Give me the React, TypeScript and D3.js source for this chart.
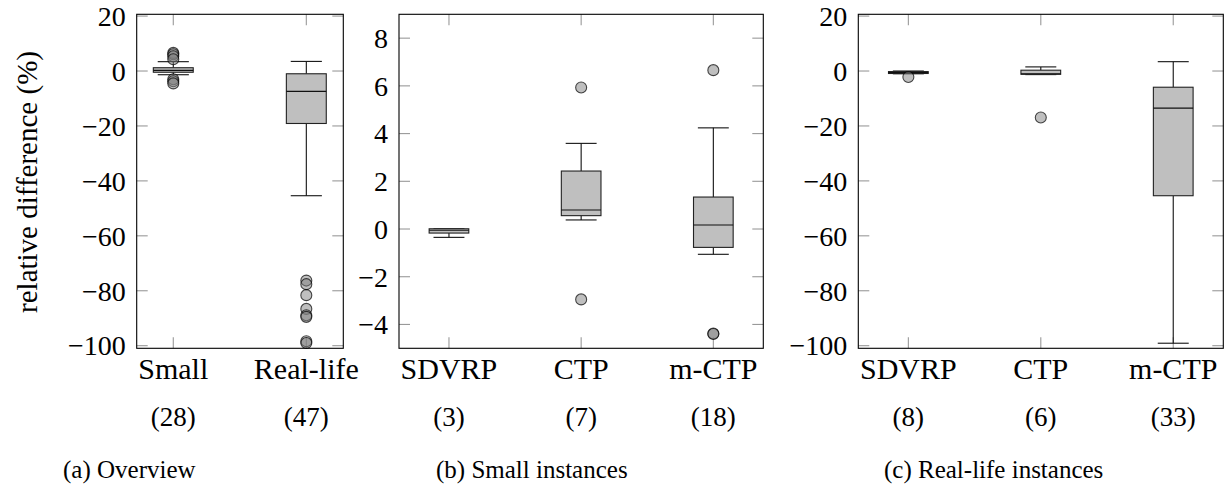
import React from "react";
import * as d3 from "d3";

// box stats: lo/hi = whisker ends
const overviewCats = ["Small", "Real-life"];
const overviewCounts = ["(28)", "(47)"];
const overviewBoxes = [
  { lo: -1.35, q1: -0.45, med: 0.25, q3: 1.2, hi: 3.4 },
  { lo: -45.4, q1: -19.1, med: -7.4, q3: -1.0, hi: 3.5 },
];
const overviewOutliers = [
  [6.6, 6.1, 5.4, 4.3, -3.0, -3.7, -4.5],
  [-76.3, -77.6, -81.6, -86.6, -88.9, -89.5, -98.4, -99.0],
];

const smallCats = ["SDVRP", "CTP", "m-CTP"];
const smallCounts = ["(3)", "(7)", "(18)"];
const smallBoxes = [
  { lo: -0.35, q1: -0.17, med: -0.05, q3: 0.01, hi: 0.01 },
  { lo: 0.38, q1: 0.56, med: 0.8, q3: 2.43, hi: 3.59 },
  { lo: -1.06, q1: -0.77, med: 0.17, q3: 1.34, hi: 4.24 },
];
const smallOutliers = [[], [5.93, -2.95], [6.66, -4.38, -4.4]];

const realCats = ["SDVRP", "CTP", "m-CTP"];
const realCounts = ["(8)", "(6)", "(33)"];
const realBoxes = [
  { lo: -1.0, q1: -0.9, med: -0.6, q3: -0.2, hi: 0 },
  { lo: -1.3, q1: -1.2, med: -1.0, q3: 0.3, hi: 1.5 },
  { lo: -99.1, q1: -45.4, med: -13.5, q3: -5.9, hi: 3.4 },
];
const realOutliers = [[-2.2], [-16.9], []];

const pctTicks = [20, 0, -20, -40, -60, -80, -100];
const smallTicks = [8, 6, 4, 2, 0, -2, -4];

const captions = ["(a) Overview", "(b) Small instances", "(c) Real-life instances"];

const FONT = "Liberation Serif, serif";
const TOP = 14.3;
const BOTTOM = 348.3;
const fmt = (v: number) => (v < 0 ? "\u2212" + Math.abs(v) : String(v));

type Box = { lo: number; q1: number; med: number; q3: number; hi: number };

function Panel({ left, right, xDomain, yDomain, ticks, cats, counts, boxes, outliers }: {
  left: number; right: number; xDomain: [number, number]; yDomain: [number, number];
  ticks: number[]; cats: string[]; counts: string[]; boxes: Box[]; outliers: number[][];
}) {
  const x = d3.scaleLinear().domain(xDomain).range([left, right]);
  const y = d3.scaleLinear().domain(yDomain).range([BOTTOM, TOP]);
  const bw = x(1.15) - x(0.85);
  const cw = x(1.117) - x(0.883);
  const tl = 11;
  return (
    <g>
      {/* ticks, inward on all four sides */}
      <g stroke="#999" strokeWidth={1.1}>
        {ticks.map((t) => (
          <g key={"y" + t}>
            <line x1={left} x2={left + tl} y1={y(t)} y2={y(t)} />
            <line x1={right - tl} x2={right} y1={y(t)} y2={y(t)} />
          </g>
        ))}
        {cats.map((c, i) => (
          <g key={"x" + c}>
            <line x1={x(i + 1)} x2={x(i + 1)} y1={BOTTOM} y2={BOTTOM - tl} />
            <line x1={x(i + 1)} x2={x(i + 1)} y1={TOP} y2={TOP + tl} />
          </g>
        ))}
      </g>
      {boxes.map((b, i) => {
        const cx = x(i + 1);
        return (
          <g key={"b" + i}>
            <g stroke="#111" strokeWidth={1.1}>
              <line x1={cx} x2={cx} y1={y(b.hi)} y2={y(b.q3)} />
              <line x1={cx} x2={cx} y1={y(b.q1)} y2={y(b.lo)} />
              <line x1={cx - cw / 2} x2={cx + cw / 2} y1={y(b.hi)} y2={y(b.hi)} />
              <line x1={cx - cw / 2} x2={cx + cw / 2} y1={y(b.lo)} y2={y(b.lo)} />
            </g>
            <rect x={cx - bw / 2} y={y(b.q3)} width={bw} height={Math.max(y(b.q1) - y(b.q3), 0.5)}
              fill="#bfbfbf" stroke="#222" strokeWidth={1.1} />
            <line x1={cx - bw / 2} x2={cx + bw / 2} y1={y(b.med)} y2={y(b.med)} stroke="#111" strokeWidth={1.1} />
            {outliers[i].map((o, j) => (
              <circle key={j} cx={cx} cy={y(o)} r={5.5} fill="#808080" fillOpacity={0.5}
                stroke="#000" strokeOpacity={0.7} strokeWidth={1.1} />
            ))}
          </g>
        );
      })}
      <rect x={left} y={TOP} width={right - left} height={BOTTOM - TOP} fill="none" stroke="#000" strokeWidth={1.1} />
      <g fontFamily={FONT} fill="#000">
        {ticks.map((t) => (
          <text key={"l" + t} x={left - 11} y={y(t)} dy="0.35em" textAnchor="end" fontSize={28}>{fmt(t)}</text>
        ))}
        {cats.map((c, i) => (
          <g key={"c" + c}>
            <text x={x(i + 1)} y={BOTTOM + 31} textAnchor="middle" fontSize={30}>{c}</text>
            <text x={x(i + 1)} y={426} textAnchor="middle" fontSize={27}>{counts[i]}</text>
          </g>
        ))}
      </g>
    </g>
  );
}

export default function App() {
  const capX = [63, 436, 884];
  return (
    <svg width={1228} height={489} style={{ position: "absolute", left: 0, top: 0, background: "#fff" }}>
      <Panel left={136.7} right={343.3} xDomain={[0.725, 2.278]} yDomain={[-100.95, 20.65]} ticks={pctTicks}
        cats={overviewCats} counts={overviewCounts} boxes={overviewBoxes} outliers={overviewOutliers} />
      <Panel left={399} right={763.3} xDomain={[0.622, 3.378]} yDomain={[-5.0, 9.0]} ticks={smallTicks}
        cats={smallCats} counts={smallCounts} boxes={smallBoxes} outliers={smallOutliers} />
      <Panel left={858.3} right={1223.3} xDomain={[0.622, 3.378]} yDomain={[-100.95, 20.65]} ticks={pctTicks}
        cats={realCats} counts={realCounts} boxes={realBoxes} outliers={realOutliers} />
      <text transform="translate(37,182) rotate(-90)" textAnchor="middle" fontFamily={FONT} fontSize={29}>
        relative difference (%)
      </text>
      {captions.map((c, i) => (
        <text key={c} x={capX[i]} y={478} fontFamily={FONT} fontSize={25}>{c}</text>
      ))}
    </svg>
  );
}
